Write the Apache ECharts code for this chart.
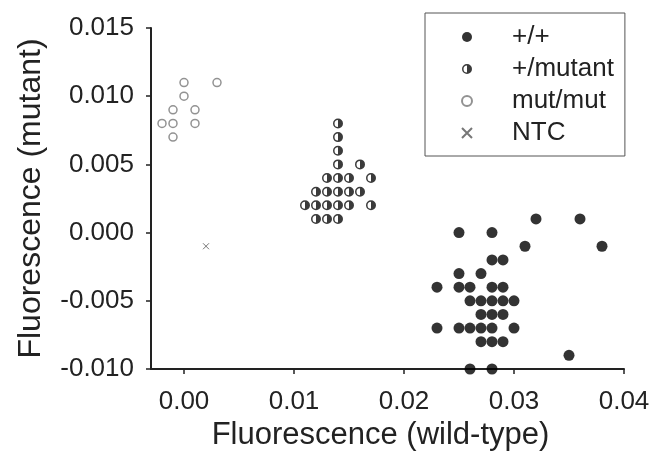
<!DOCTYPE html>
<html>
<head>
<meta charset="utf-8">
<script src="https://cdn.jsdelivr.net/npm/echarts@6/dist/echarts.min.js"></script>
<style>
  html, body { margin: 0; padding: 0; background: #fff; }
  #chart { width: 668px; height: 465px; }
</style>
</head>
<body>
<div id="chart"></div>
<script>
// genotype clusters, [wild-type fluorescence, mutant fluorescence]
const wildType = [
  [0.032, 0.001], [0.036, 0.001],
  [0.025, 0.000], [0.028, 0.000],
  [0.031, -0.001], [0.038, -0.001],
  [0.028, -0.002], [0.029, -0.002],
  [0.025, -0.003], [0.027, -0.003],
  [0.023, -0.004], [0.025, -0.004], [0.026, -0.004], [0.028, -0.004], [0.029, -0.004],
  [0.026, -0.005], [0.027, -0.005], [0.028, -0.005], [0.029, -0.005], [0.030, -0.005],
  [0.027, -0.006], [0.028, -0.006], [0.029, -0.006],
  [0.023, -0.007], [0.025, -0.007], [0.026, -0.007], [0.027, -0.007], [0.028, -0.007], [0.030, -0.007],
  [0.027, -0.008], [0.028, -0.008], [0.029, -0.008],
  [0.035, -0.009],
  [0.026, -0.010], [0.028, -0.010],
]
const heterozygous = [
  [0.014, 0.008], [0.014, 0.007], [0.014, 0.006], [0.014, 0.005], [0.016, 0.005],
  [0.013, 0.004], [0.014, 0.004], [0.015, 0.004], [0.017, 0.004],
  [0.012, 0.003], [0.013, 0.003], [0.014, 0.003], [0.015, 0.003], [0.016, 0.003],
  [0.011, 0.002], [0.012, 0.002], [0.013, 0.002], [0.014, 0.002], [0.015, 0.002], [0.017, 0.002],
  [0.012, 0.001], [0.013, 0.001], [0.014, 0.001],
]
const mutMut = [
  [0.000, 0.011], [0.003, 0.011], [0.000, 0.010],
  [-0.001, 0.009], [0.001, 0.009],
  [-0.002, 0.008], [-0.001, 0.008], [0.001, 0.008],
  [-0.001, 0.007],
]
const ntc = [[0.002, -0.001]]

const seriesNames = ['+/+', '+/mutant', 'mut/mut', 'NTC']
const xTicks = [0, 0.01, 0.02, 0.03, 0.04]

const FONT = 'Liberation Sans, Arial, sans-serif'
const TEXT = '#222'
// ring on the left, solid on the right
const halfDot = 'path://M10,0 A10,10 0 1,1 -10,0 A10,10 0 1,1 10,0 Z M0,-7 A7,7 0 0,0 0,7 Z'
const cross = 'path://M0,0 L10,10 M10,0 L0,10'

const chart = echarts.init(document.getElementById('chart'))
chart.setOption({
  animation: false,
  textStyle: { fontFamily: FONT, color: TEXT },
  grid: { left: 151, right: 44, top: 28, bottom: 96 },
  legend: {
    orient: 'vertical',
    left: 425,
    top: 13,
    padding: [11, 11, 10, 36],
    borderColor: '#555',
    borderWidth: 1,
    itemWidth: 80,
    itemHeight: 10,
    itemGap: 6,
    data: seriesNames,
    textStyle: { fontSize: 26, lineHeight: 26, color: TEXT, fontFamily: FONT },
  },
  xAxis: {
    type: 'value',
    min: -0.003,
    max: 0.04,
    name: 'Fluorescence (wild-type)',
    nameLocation: 'middle',
    nameGap: 34,
    nameTextStyle: { fontSize: 31, color: TEXT, fontFamily: FONT, padding: [0, 14, 0, 0] },
    splitLine: { show: false },
    axisLine: { onZero: false, lineStyle: { color: '#222', width: 2 } },
    axisTick: { length: 5, lineStyle: { color: '#222', width: 1.5 }, customValues: xTicks },
    axisLabel: {
      fontSize: 26,
      color: TEXT,
      margin: 20,
      customValues: xTicks,
      formatter: (v) => v.toFixed(2),
    },
  },
  yAxis: {
    type: 'value',
    min: -0.01,
    max: 0.015,
    interval: 0.005,
    name: 'Fluorescence (mutant)',
    nameLocation: 'middle',
    nameGap: 104,
    nameTextStyle: { fontSize: 32, color: TEXT, fontFamily: FONT },
    splitLine: { show: false },
    axisLine: { show: true, onZero: false, lineStyle: { color: '#222', width: 2 } },
    axisTick: { show: true, length: 5, lineStyle: { color: '#222', width: 1.5 } },
    axisLabel: {
      fontSize: 26,
      color: TEXT,
      margin: 17,
      formatter: (v) => v.toFixed(3),
    },
  },
  series: [
    {
      name: seriesNames[0],
      type: 'scatter',
      clip: false,
      symbol: 'circle',
      symbolSize: 11,
      itemStyle: { color: '#000' },
      data: wildType,
    },
    {
      name: seriesNames[1],
      type: 'scatter',
      clip: false,
      symbol: halfDot,
      symbolSize: 10,
      itemStyle: { color: '#0a0a0a' },
      data: heterozygous,
    },
    {
      name: seriesNames[2],
      type: 'scatter',
      clip: false,
      symbol: 'circle',
      symbolSize: 8,
      itemStyle: { color: '#fff', borderColor: '#777', borderWidth: 1.5 },
      data: mutMut,
    },
    {
      name: seriesNames[3],
      type: 'scatter',
      clip: false,
      symbol: cross,
      symbolSize: 6,
      itemStyle: { color: 'rgba(0,0,0,0)', borderColor: '#555', borderWidth: 1 },
      data: ntc,
    },
  ],
})
</script>
</body>
</html>
